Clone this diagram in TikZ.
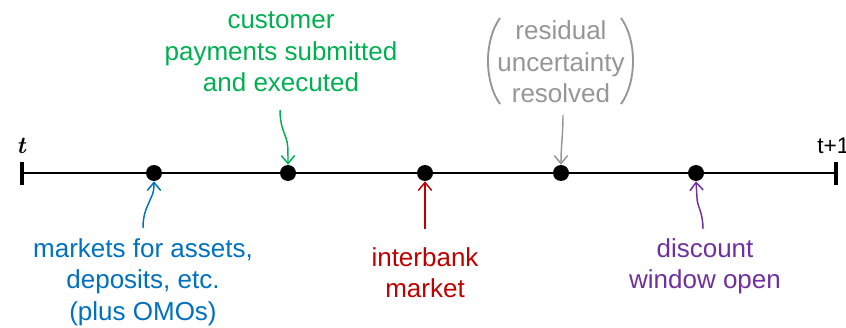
\documentclass[tikz,border=0pt]{standalone}
\usepackage{fontspec}
\setmainfont{Liberation Sans}
\usetikzlibrary{arrows.meta}
\definecolor{cgreen}{RGB}{0,176,80}
\definecolor{cgray}{RGB}{150,150,150}
\definecolor{cblue}{RGB}{0,112,192}
\definecolor{cred}{RGB}{192,0,0}
\definecolor{cpurple}{RGB}{112,48,160}
\tikzset{
  lbl/.style={align=center, inner sep=0pt, font=\fontsize{19.5}{23.5}\selectfont},
  dot/.style={circle, fill=black, inner sep=0pt, minimum size=12pt},
  tip/.style={line width=1.1pt, -{Straight Barb[length=6pt,width=10pt]}},
}
\begin{document}
\begin{tikzpicture}[x=0.75pt,y=-0.75pt]
\useasboundingbox (0,0) rectangle (846,328);
% timeline
\coordinate (L) at (22,173);
\coordinate (R) at (836,173);
\draw[line width=2pt] (L) -- (R);
\draw[line width=3.2pt] (22,162) -- (22,185);
\draw[line width=3.2pt] (836,162) -- (836,185);
\node[font=\fontsize{18}{20}\selectfont\rmfamily\bfseries\itshape] (tl) at (21,146) {\fontspec{Latin Modern Roman}\bfseries\itshape t};
\node[anchor=west, inner sep=0pt, font=\fontsize{17}{20}\selectfont] (tr) at (817,146) {t+1};
% dots
\node[dot] (d1) at (154,173) {};
\node[dot] (d2) at (288,173) {};
\node[dot] (d3) at (425,173) {};
\node[dot] (d4) at (561,173) {};
\node[dot] (d5) at (696,173) {};
% labels
\node[lbl, text=cgreen] (g) at (281,52) {customer\\payments submitted\\and executed};
\node[lbl, text=cgray] (u) at (561,62) {residual\\uncertainty\\resolved};
\node[lbl, text=cblue] (b) at (143,282) {markets for assets,\\deposits, etc.\\(plus OMOs)};
\node[lbl, text=cred] (r) at (425,273) {interbank\\market};
\node[lbl, text=cpurple] (p) at (705,266) {discount\\window open};
% parentheses
\draw[cgray, line width=1.4pt] (500,18) .. controls (484,40) and (484,82) .. (500,104);
\draw[cgray, line width=1.4pt] (621,18) .. controls (637,40) and (637,82) .. (621,104);
% arrows
\coordinate (bs) at (143,228);
\draw[tip, cblue] (bs) .. controls (143,212) and (148,206) .. (150,200) .. controls (152,195) and (154,194) .. (d1.south);
\coordinate (gs) at (280,110);
\draw[tip, cgreen] (gs) .. controls (280,125) and (284,132) .. (286,138) .. controls (288,144) and (288,148) .. (d2.north);
\coordinate (rs) at (425,229);
\draw[tip, cred] (rs) -- (d3.south);
\coordinate (us) at (563,115);
\draw[tip, cgray] (us) .. controls (563,135) and (561,145) .. (d4.north);
\coordinate (ps) at (703,229);
\draw[tip, cpurple] (ps) .. controls (703,212) and (697,206) .. (697,198) -- (d5.south);
\end{tikzpicture}
\end{document}
